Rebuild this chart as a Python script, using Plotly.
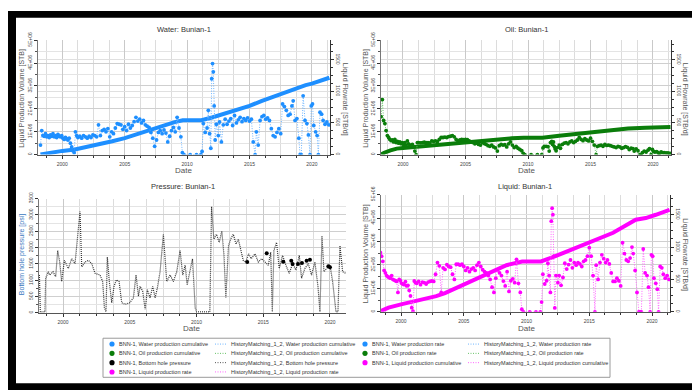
import plotly.graph_objects as go
from datetime import datetime, timedelta

W, H = 692, 391

# ---------------- DATA ----------------
rate_years = [
    1998.25, 1998.35, 1998.45, 1998.55, 1998.65, 1998.75, 1998.85, 1998.95,
    1999.05, 1999.15, 1999.25, 1999.35, 1999.45, 1999.55, 1999.65, 1999.75, 1999.85, 1999.95,
    2000.05, 2000.15, 2000.25, 2000.35, 2000.45, 2000.55, 2000.65, 2000.75, 2000.85, 2000.95,
    2001.05, 2001.15, 2001.25, 2001.4, 2001.55, 2001.7, 2001.85, 2002.0, 2002.15, 2002.3, 2002.45, 2002.6, 2002.75, 2002.9,
    2003.05, 2003.2, 2003.35, 2003.5, 2003.65, 2003.8, 2003.95, 2004.1, 2004.25, 2004.4, 2004.55, 2004.7, 2004.85,
    2005.0, 2005.15, 2005.3, 2005.45, 2005.6, 2005.75, 2005.9, 2006.05, 2006.2, 2006.35, 2006.5, 2006.65, 2006.8, 2006.95,
    2007.1, 2007.25, 2007.4, 2007.55, 2007.7, 2007.85, 2008.0, 2008.15, 2008.3, 2008.45, 2008.6, 2008.75, 2008.9,
    2009.05, 2009.2, 2009.35, 2009.5, 2009.62, 2009.75, 2010.25, 2010.75, 2011.1,
    2011.2, 2011.3, 2011.45, 2011.6, 2011.7, 2011.8, 2011.9, 2011.97, 2012.04, 2012.1, 2012.17, 2012.25, 2012.35, 2012.5, 2012.6, 2012.75, 2012.9,
    2013.05, 2013.2, 2013.35, 2013.5, 2013.65, 2013.8, 2013.95, 2014.1, 2014.25, 2014.4, 2014.55, 2014.7, 2014.85,
    2015.0, 2015.15, 2015.3, 2015.45, 2015.55, 2015.7, 2015.85, 2016.0, 2016.15, 2016.3, 2016.45, 2016.6, 2016.75, 2016.9,
    2017.05, 2017.2, 2017.35, 2017.5, 2017.65, 2017.8, 2017.95, 2018.1, 2018.25, 2018.4, 2018.5, 2018.65, 2018.8, 2018.95,
    2019.05, 2019.15, 2019.3, 2019.45, 2019.6, 2019.72, 2019.85, 2019.95, 2020.05, 2020.15, 2020.3, 2020.42, 2020.52, 2020.65, 2020.78, 2020.9,
    2021.05, 2021.2, 2021.35,
]

water_rate = [
    150, 380, 300, 290, 330, 280, 300, 270,
    310, 290, 330, 280, 300, 270, 320, 290, 280, 300,
    260, 240, 270, 250, 230, 260, 180, 120, 60, 30,
    360, 300, 270, 290, 260, 300, 280, 260, 290, 270, 310, 300, 280, 470,
    300, 380, 400, 360, 410, 280, 360, 330, 420, 490, 480, 470, 400,
    440, 380, 480, 420, 460, 520, 590, 530, 560, 500, 540, 470, 450, 430,
    350, 260, 130, 230, 350, 380, 330, 390, 340, 200, 290, 380, 430,
    360, 590, 420, 280, 30, 0, 0, 0, 0,
    50, 490, 350, 420, 700, 330, 100, 1200, 1440, 1310, 770, 230, 480, 300, 515, 200, 470,
    560, 480, 530, 570, 460, 620, 500, 550, 590, 520, 570, 540, 580,
    530, 560, 200, 0, 360, 150, 540, 600, 620, 560, 580, 540, 410, 300,
    280, 350, 410, 330, 800, 760, 700, 620, 640, 770, 850, 540, 570, 260,
    0, 0, 930, 540, 490, 310, 0, 770, 800, 460, 360, 300, 0, 670, 640, 540,
    480, 515, 470,
]

oil_rate = [
    600, 870, 540, 490, 380, 300, 270, 240,
    220, 230, 200, 240, 190, 210, 180, 200, 170, 190,
    160, 190, 150, 215, 170, 150, 140, 160, 120, 55,
    0, 190, 190, 185, 190, 195, 190, 190, 185, 215, 210, 215, 205, 240,
    270, 270, 275, 270, 285, 290, 300, 280, 240, 215, 230, 240, 235,
    240, 235, 215, 200, 190, 170, 180, 160, 150, 190, 175, 160, 140, 130,
    150, 120, 105, 55, 140, 160, 150, 155, 120, 170, 200, 150, 110,
    130, 100, 80, 60, 20, 0, 0, 0, 0,
    105, 130, 130, 125, 55, 190, 210, 160, 200, 130, 90, 60, 110, 150, 100, 160, 180,
    190, 170, 200, 215, 190, 210, 230, 270, 240, 220, 250, 230, 215,
    260, 210, 150, 0, 130, 140, 150, 130, 160, 145, 150, 140, 130, 120,
    110, 130, 120, 100, 110, 125, 115, 80, 100, 95, 55, 90, 60, 0,
    0, 30, 55, 40, 70, 95, 0, 80, 50, 40, 45, 30, 0, 40, 30, 30,
    25, 25, 20,
]

liquid_rate = [
    800, 915, 860, 780, 640, 600, 560, 540,
    530, 520, 560, 500, 490, 480, 470, 300, 500, 480,
    440, 430, 420, 465, 400, 410, 330, 245, 64, 10,
    476, 450, 440, 470, 420, 460, 450, 430, 460, 470, 476, 470, 580, 760,
    710, 300, 680, 655, 730, 700, 690, 580, 500, 735, 735, 720, 735,
    700, 640, 680, 620, 660, 680, 640, 720, 760, 700, 650, 620, 600, 560,
    500, 380, 300, 520, 650, 600, 560, 475, 400, 620, 315, 480, 510,
    450, 810, 440, 300, 40, 0, 0, 0, 0,
    150, 580, 430, 480, 750, 560, 300, 1400, 1600, 1500, 860, 60, 560, 450, 560, 410, 530,
    750, 660, 730, 800, 680, 760, 720, 760, 740, 700, 780, 800, 860,
    990, 860, 560, 0, 720, 500, 760, 880, 820, 760, 800, 740, 600, 470,
    470, 520, 480, 400, 1067, 900, 800, 780, 830, 1000, 900, 640, 300, 0,
    0, 0, 970, 600, 560, 380, 0, 880, 860, 520, 440, 350, 0, 700, 680, 580,
    520, 560, 500,
]

water_cum_years = [1998.25, 1999.0, 2000.0, 2001.0, 2002.0, 2003.0, 2004.0, 2005.0, 2006.0, 2007.0,
                   2008.0, 2009.0, 2009.65, 2011.15, 2012.0, 2013.0, 2014.0, 2015.0, 2016.0, 2017.0,
                   2018.0, 2019.0, 2019.5, 2020.0, 2021.0, 2021.4]
water_cum = [0, 0.08e6, 0.16e6, 0.22e6, 0.33e6, 0.45e6, 0.58e6, 0.72e6, 0.9e6, 1.1e6,
             1.26e6, 1.42e6, 1.5e6, 1.5e6, 1.62e6, 1.78e6, 1.96e6, 2.13e6, 2.35e6, 2.55e6,
             2.78e6, 2.98e6, 3.04e6, 3.1e6, 3.26e6, 3.36e6]

oil_cum_years = [1998.25, 1998.5, 1999.0, 1999.5, 2000.0, 2000.8, 2002.0, 2003.4, 2005.0, 2006.1,
                 2007.5, 2008.7, 2009.65, 2011.15, 2012.5, 2014.1, 2015.5, 2016.8, 2018.0, 2019.4,
                 2020.5, 2021.4]
oil_cum = [0, 0.08e6, 0.18e6, 0.26e6, 0.29e6, 0.33e6, 0.4e6, 0.47e6, 0.55e6, 0.6e6,
           0.66e6, 0.71e6, 0.74e6, 0.74e6, 0.82e6, 0.92e6, 1.02e6, 1.1e6, 1.14e6, 1.17e6,
           1.19e6, 1.2e6]

liquid_cum_years = [1998.25, 1999.0, 2000.0, 2000.9, 2002.8, 2003.5, 2005.2, 2006.8, 2008.4, 2009.65,
                    2011.15, 2012.1, 2014.3, 2016.9, 2018.7, 2019.5, 2020.3, 2021.4]
liquid_cum = [0, 0.18e6, 0.32e6, 0.43e6, 0.67e6, 0.8e6, 1.22e6, 1.64e6, 1.99e6, 2.15e6,
              2.15e6, 2.33e6, 2.8e6, 3.37e6, 3.93e6, 4.0e6, 4.14e6, 4.35e6]

bhp_sim_years = [
    1998.23, 1998.3, 1998.65, 1998.7, 1998.9, 1999.0, 1999.25, 1999.45, 1999.6, 1999.75, 1999.9,
    2000.1, 2000.4, 2000.65, 2000.9, 2001.07, 2001.27, 2001.4, 2001.65, 2001.9, 2002.15, 2002.4,
    2002.77, 2002.97, 2003.1, 2003.22, 2003.32, 2003.47, 2003.65, 2003.82, 2004.0, 2004.2, 2004.4,
    2004.65, 2005.0, 2005.27, 2005.47, 2005.65, 2005.77, 2005.97, 2006.15, 2006.32, 2006.52, 2006.72,
    2006.9, 2007.07, 2007.27, 2007.52, 2007.77, 2008.02, 2008.27, 2008.52, 2008.77, 2008.97, 2009.15,
    2009.3, 2009.5, 2009.7, 2009.9, 2010.0, 2011.0, 2011.13, 2011.3, 2011.5, 2011.7, 2011.9, 2012.06,
    2012.2, 2012.4, 2012.56, 2012.76, 2012.96, 2013.13, 2013.3, 2013.5, 2013.7, 2013.9, 2014.1,
    2014.38, 2014.63, 2014.88, 2015.13, 2015.38, 2015.56, 2015.68, 2015.8, 2016.0, 2016.2, 2016.45,
    2016.7, 2016.95, 2017.2, 2017.45, 2017.7, 2017.87, 2018.12, 2018.37, 2018.62, 2018.87, 2019.1,
    2019.25, 2019.4, 2019.55, 2019.75, 2020.0, 2020.2, 2020.37, 2020.45, 2020.6, 2020.75, 2020.95,
    2021.2,
]
bhp_sim = [
    1158, 30, 30, 1058, 1257, 1158, 1257, 1108, 1906, 1557, 958,
    1607, 1357, 1657, 1507, 2156, 3104, 1407, 1557, 1607, 1507, 1208,
    1158, 958, 160, 30, 1707, 958, 309, 808, 1008, 958, 309,
    259, 309, 459, 1158, 509, 808, 659, 110, 709, 459, 808,
    459, 758, 1257, 2405, 958, 1158, 958, 1257, 1906, 1158, 1457,
    859, 1257, 1657, 160, 30, 30, 3253, 2256, 2405, 2156, 2505, 1757,
    459, 2056, 2256, 2405, 2106, 2256, 1956, 1607, 1557, 1806, 1657,
    1806, 1557, 1657, 1557, 1457, 1856, 30, 1906, 2156, 1357, 1757,
    1457, 1208, 1507, 1307, 1757, 1058, 1357, 1507, 1158, 1557, 808,
    30, 2355, 1257, 1357, 1457, 958, 259, 30, 30, 2056, 1257,
    1208,
]

bhp_obs_years = [2013.8, 2015.26, 2016.5, 2017.1, 2017.2, 2017.6, 2017.9, 2018.25, 2018.5, 2019.88, 2020.0]
bhp_obs = [1557, 1826, 1567, 1597, 1497, 1497, 1527, 1597, 1627, 1427, 1397]

cum_ticks = [0, 1e6, 2e6, 3e6, 4e6, 5e6]
cum_ticktext = ["0", "1E+06", "2E+06", "3E+06", "4E+06", "5E+06"]
rate_ticks = [0, 500, 1000, 1500]
bhp_ticks = [0, 500, 1000, 1500, 2000, 2500, 3000, 3500]

legend_rows = [
    [("m", "#1e8fff", "BNN-1, Water production cumulative"),
     ("l", "#6fb5ff", "HistoryMatching_1_2, Water production cumulative"),
     ("m", "#1e8fff", "BNN-1, Water production rate"),
     ("l", "#6fb5ff", "HistoryMatching_1_2, Water production rate")],
    [("m", "#0a7d0a", "BNN-1, Oil production cumulative"),
     ("l", "#66c266", "HistoryMatching_1_2, Oil production cumulative"),
     ("m", "#0a7d0a", "BNN-1, Oil production rate"),
     ("l", "#66c266", "HistoryMatching_1_2, Oil production rate")],
    [("m", "#000000", "BNN-1, Bottom hole pressure"),
     ("l", "#555555", "HistoryMatching_1_2, Bottom hole pressure"),
     ("m", "#ff00ff", "BNN-1, Liquid production cumulative"),
     ("l", "#ff66ff", "HistoryMatching_1_2, Liquid production cumulative")],
    [("m", "#ff00ff", "BNN-1, Liquid production rate"),
     ("l", "#ff66ff", "HistoryMatching_1_2, Liquid production rate")],
]


# ---------------- HELPERS ----------------
def d(v):
    y = int(v)
    return datetime(y, 1, 1) + timedelta(days=(v - y) * 365.25)


def dl(vals):
    return [d(v) for v in vals]


def px(x):
    return x / W


def py(y):
    return 1 - y / H


FONT = "Liberation Sans, Arial, sans-serif"
BLUE, BLUE_L = "#1e8fff", "#6fb5ff"
GREEN, GREEN_L = "#0a7d0a", "#66c266"
MAG, MAG_L = "#ff00ff", "#ff66ff"
DOT = "1px,1.5px"

fig = go.Figure()


def add_cum(xs, ys, color, xa, ya):
    fig.add_trace(go.Scatter(x=dl(xs), y=ys, mode="lines", line=dict(color=color, width=4),
                             xaxis=xa, yaxis=ya, showlegend=False, hoverinfo="skip"))


def add_rate(xs, ys, color, lcolor, xa, ya):
    fig.add_trace(go.Scatter(x=dl(xs), y=ys, mode="lines", line=dict(color=lcolor, width=1, dash=DOT),
                             xaxis=xa, yaxis=ya, showlegend=False, hoverinfo="skip"))
    fig.add_trace(go.Scatter(x=dl(xs), y=ys, mode="markers", marker=dict(color=color, size=3.8),
                             xaxis=xa, yaxis=ya, showlegend=False, hoverinfo="skip"))


# Water (top-left)
add_cum(water_cum_years, water_cum, BLUE, "x", "y")
add_rate(rate_years, water_rate, BLUE, BLUE_L, "x", "y2")
# Oil (top-right)
add_cum(oil_cum_years, oil_cum, GREEN, "x2", "y3")
add_rate(rate_years, oil_rate, GREEN, GREEN_L, "x2", "y4")
# Pressure (bottom-left)
fig.add_trace(go.Scatter(x=dl(bhp_sim_years), y=bhp_sim, mode="lines",
                         line=dict(color="#333333", width=1.2, dash="1px,1px"),
                         xaxis="x3", yaxis="y5", showlegend=False, hoverinfo="skip"))
fig.add_trace(go.Scatter(x=dl(bhp_obs_years), y=bhp_obs, mode="markers",
                         marker=dict(color="#000000", size=4),
                         xaxis="x3", yaxis="y5", showlegend=False, hoverinfo="skip"))
# Liquid (bottom-right)
add_cum(liquid_cum_years, liquid_cum, MAG, "x4", "y6")
add_rate(rate_years, liquid_rate, MAG, MAG_L, "x4", "y7")

TICKF = dict(family=FONT, size=5, color="#444")


def xaxis_cfg(x0, x1, r0, r1, yanchor):
    return dict(domain=[px(x0), px(x1)], type="date", range=[d(r0), d(r1)], anchor=yanchor,
                dtick="M60", tick0="2000-01-01", tickformat="%Y", tickfont=TICKF,
                showgrid=True, gridcolor="#c9c9c9", gridwidth=1,
                ticks="outside", ticklen=3, tickcolor="#333", tickwidth=1,
                minor=dict(dtick="M15", tick0="2000-01-01", showgrid=True, gridcolor="#dcdcdc",
                           ticks="outside", ticklen=2, tickcolor="#333"),
                showline=True, linecolor="#555", linewidth=1, zeroline=False, ticklabelstandoff=1)


def yleft_cfg(y0, y1, xanchor, rng, tv, tt):
    return dict(domain=[py(y1), py(y0)], anchor=xanchor, range=rng, tickvals=tv, ticktext=tt,
                tickangle=-90, tickfont=TICKF, showgrid=True, gridcolor="#cfcfcf",
                minor=dict(dtick=(tv[1] - tv[0]) / 2, showgrid=True, gridcolor="#e4e4e4",
                           ticks="outside", ticklen=2, tickcolor="#555"),
                ticks="outside", ticklen=3, tickcolor="#333",
                showline=True, linecolor="#777", linewidth=1, zeroline=False)


def yright_cfg(overlay, xanchor):
    return dict(overlaying=overlay, side="right", anchor=xanchor, range=[0, 1810],
                tickvals=rate_ticks, tickangle=90, tickfont=TICKF, showgrid=True, gridcolor="#e0e0e0",
                minor=dict(dtick=125, ticks="outside", ticklen=2, tickcolor="#333", showgrid=False),
                ticks="outside", ticklen=3, tickcolor="#333",
                showline=True, linecolor="#333", linewidth=1, zeroline=False)


fig.update_layout(
    width=W, height=H, margin=dict(l=0, r=0, t=0, b=0),
    paper_bgcolor="white", plot_bgcolor="white", font=dict(family=FONT, color="#444"),
    showlegend=False,
    xaxis=xaxis_cfg(38, 330, 1998.05, 2021.45, "y"),
    yaxis=yleft_cfg(33, 150, "x", [0, 5e6], cum_ticks, cum_ticktext),
    yaxis2=yright_cfg("y", "x"),
    xaxis2=xaxis_cfg(381, 671, 1998.24, 2021.44, "y3"),
    yaxis3=yleft_cfg(33, 150, "x2", [0, 5e6], cum_ticks, cum_ticktext),
    yaxis4=yright_cfg("y3", "x2"),
    xaxis3=xaxis_cfg(39, 346, 1998.2, 2021.2, "y5"),
    yaxis5=yleft_cfg(195, 312, "x3", [0, 3500], bhp_ticks, [str(v) for v in bhp_ticks]),
    xaxis4=xaxis_cfg(381, 670, 1998.4, 2021.43, "y6"),
    yaxis6=yleft_cfg(191, 311, "x4", [0, 5e6], cum_ticks, cum_ticktext),
    yaxis7=yright_cfg("y6", "x4"),
)

ann = []


def text(x, y, s, size=7, color="#444", angle=0, xanchor="center"):
    ann.append(dict(x=px(x), y=py(y), xref="paper", yref="paper", text=s, showarrow=False,
                    textangle=angle, xanchor=xanchor, yanchor="middle",
                    font=dict(family=FONT, size=size, color=color)))


# panel titles
text(184, 22, "Water: Bunian-1", 7.5, "#333")
text(526, 22, "Oil: Bunian-1", 7.5, "#333")
text(183, 183, "Pressure: Bunian-1", 7.5, "#333")
text(525, 183, "Liquid: Bunian-1", 7.5, "#333")
# x titles
text(184, 166, "Date", 8, "#555")
text(526, 166, "Date", 8, "#555")
text(192, 328, "Date", 8, "#555")
text(526, 328, "Date", 8, "#555")
# y titles
text(22, 93, "Liquid Production Volume [STB]", 7, "#555", -90)
text(345, 93, "Liquid Flowrate [STB/d]", 7, "#555", 90)
text(366, 93, "Liquid Production Volume [STB]", 7, "#555", -90)
text(685, 93, "Liquid Flowrate [STB/d]", 7, "#555", 90)
text(22, 253, "Bottom hole pressure [psi]", 7, "#3a78c0", -90)
text(366, 252, "Liquid Production Volume [STB]", 7, "#555", -90)
text(685, 252, "Liquid Flowrate [STB/d]", 7, "#555", 90)

shapes = []
# black frame
for (x0, y0, x1, y1) in [(8, 3, 692, 10), (8, 3, 16, 391), (8, 384, 692, 391)]:
    shapes.append(dict(type="rect", xref="paper", yref="paper", x0=px(x0), x1=px(x1), y0=py(y1), y1=py(y0),
                       fillcolor="black", line=dict(width=0), layer="above"))
# legend box
shapes.append(dict(type="rect", xref="paper", yref="paper", x0=px(103), x1=px(610), y0=py(378), y1=py(338),
                   fillcolor="white", line=dict(color="#9a9a9a", width=1)))
col_marker_x = [112, None, 365, None]
col_line_x = [None, (215, 227), None, (468, 480)]
col_text_x = [117, 229, 370, 482]
row_y = [344, 353.5, 363, 372.5]
for ri, row in enumerate(legend_rows):
    yy = row_y[ri]
    for ci, (kind, color, label) in enumerate(row):
        if kind == "m":
            cx = col_marker_x[ci]
            r = 2.6
            shapes.append(dict(type="circle", xref="paper", yref="paper", x0=px(cx - r), x1=px(cx + r),
                               y0=py(yy + r), y1=py(yy - r), fillcolor=color, line=dict(width=0)))
        else:
            a, b = col_line_x[ci]
            shapes.append(dict(type="line", xref="paper", yref="paper", x0=px(a), x1=px(b), y0=py(yy), y1=py(yy),
                               line=dict(color=color, width=1, dash=DOT)))
        text(col_text_x[ci], yy, label, 5.5, "#333", 0, "left")

fig.update_layout(annotations=ann, shapes=shapes)
fig.write_html("out.html", config={"displayModeBar": False},
               post_script="document.body.style.margin='0';document.body.style.overflow='hidden';")
